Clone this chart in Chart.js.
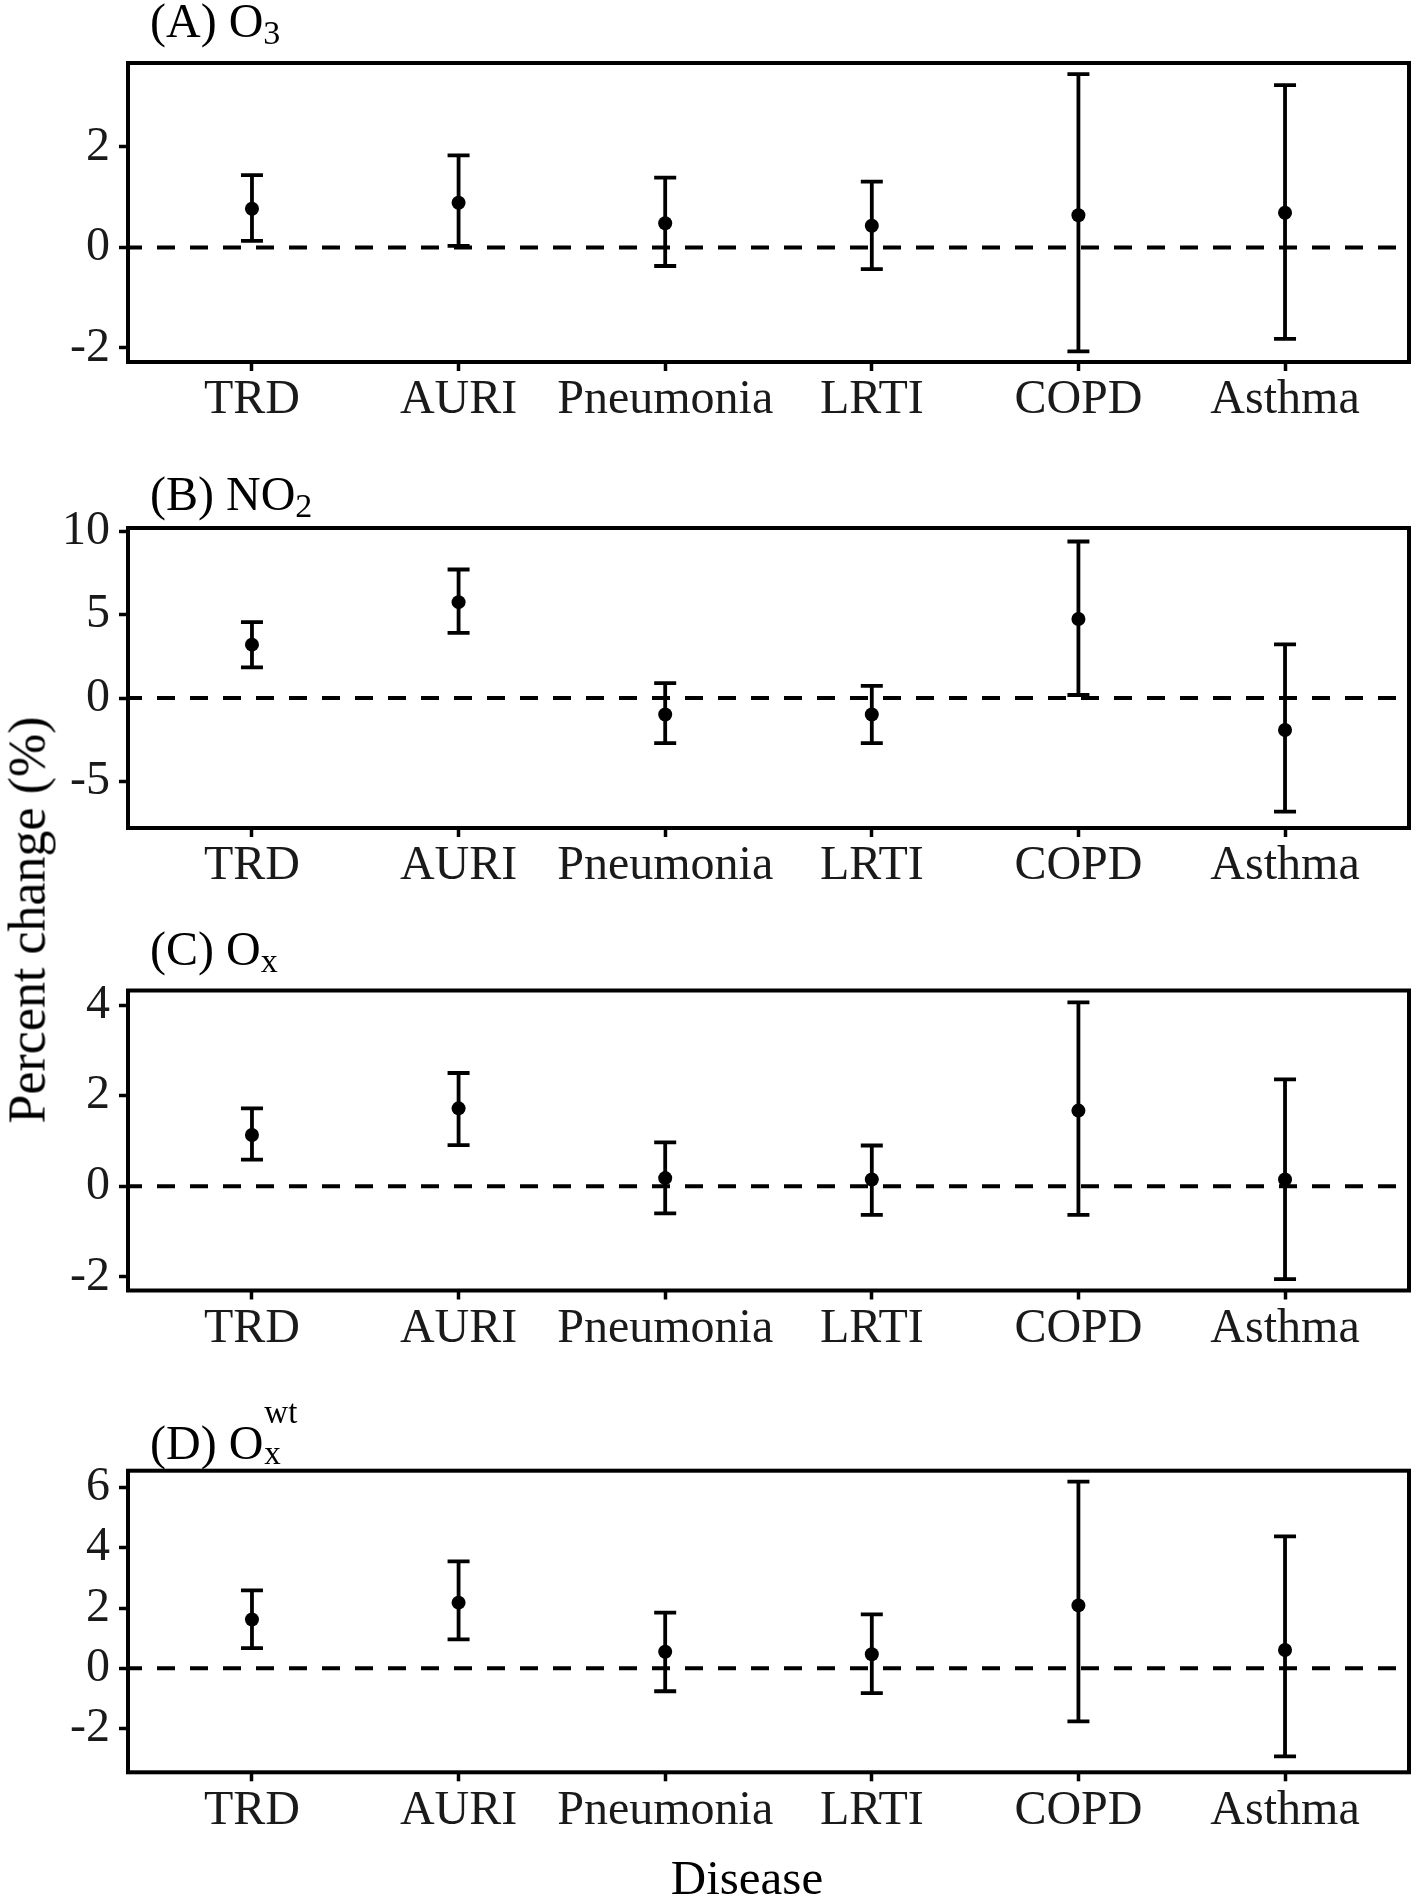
<!DOCTYPE html>
<html>
<head>
<meta charset="utf-8">
<script src="https://cdn.jsdelivr.net/npm/chart.js@4.4.0/dist/chart.umd.min.js"></script>
<style>
  html, body { margin: 0; padding: 0; background: #fff; }
  #wrap { position: relative; width: 1416px; height: 1898px; overflow: hidden;
          font-family: "Liberation Serif", "Times New Roman", serif; color: #000; }
  canvas { position: absolute; left: 0; }
  .ptitle { position: absolute; left: 150px; font-size: 48px; line-height: 1; white-space: nowrap; z-index: 2; }
  .ptitle sub { font-size: 34px; vertical-align: -7px; line-height: 1; }
  .stack { display: inline-block; position: relative; width: 38px; height: 48px; vertical-align: baseline; }
  .stack span { position: absolute; left: 1px; font-size: 33px; line-height: 1; }
  .stack .up { top: -15px; }
  .stack .dn { top: 26px; }
  #ytitle { position: absolute; left: 27px; top: 920px; font-size: 52px; white-space: nowrap;
            transform: translate(-50%, -50%) rotate(-90deg); z-index: 2; }
  #xtitle { position: absolute; left: 747px; top: 1877px; font-size: 49px; white-space: nowrap;
            transform: translate(-50%, -50%); z-index: 2; }
</style>
</head>
<body>
<div id="wrap">
  <div class="ptitle" style="top:-3px">(A) O<sub>3</sub></div>
  <div class="ptitle" style="top:470px">(B) NO<sub>2</sub></div>
  <div class="ptitle" style="top:925px">(C) O<sub>x</sub></div>
  <div class="ptitle" style="top:1411px">(D) O<span class="stack"><span class="up">wt</span><span class="dn">x</span></span></div>
  <div id="ytitle">Percent change (%)</div>
  <div id="xtitle">Disease</div>
  <canvas id="cA" width="1416" height="440" style="top:0px"></canvas>
  <canvas id="cB" width="1416" height="440" style="top:470px"></canvas>
  <canvas id="cC" width="1416" height="440" style="top:935px"></canvas>
  <canvas id="cD" width="1416" height="440" style="top:1410px"></canvas>
</div>
<script>
// categories on the x axis
const categories = ['TRD', 'AURI', 'Pneumonia', 'LRTI', 'COPD', 'Asthma'];
const xRange = [-0.6, 5.6];

// (A) O3
const o3Est  = [0.77, 0.89, 0.48, 0.43, 0.64, 0.69];
const o3Low  = [0.13, 0.03, -0.37, -0.43, -2.07, -1.82];
const o3High = [1.44, 1.83, 1.39, 1.31, 3.45, 3.23];
const o3Ticks = [-2, 0, 2];
const o3Range = [-2.28, 3.67];

// (B) NO2
const no2Est  = [3.20, 5.75, -0.99, -0.99, 4.74, -1.92];
const no2Low  = [1.84, 3.91, -2.71, -2.71, 0.18, -6.82];
const no2High = [4.55, 7.71, 0.89, 0.73, 9.39, 3.22];
const no2Ticks = [-5, 0, 5, 10];
const no2Range = [-7.8, 10.2];

// (C) Ox
const oxEst  = [1.13, 1.72, 0.18, 0.15, 1.67, 0.15];
const oxLow  = [0.59, 0.91, -0.60, -0.63, -0.63, -2.05];
const oxHigh = [1.72, 2.50, 0.97, 0.90, 4.06, 2.36];
const oxTicks = [-2, 0, 2, 4];
const oxRange = [-2.30, 4.32];

// (D) Ox wt
const oxwtEst  = [1.62, 2.18, 0.55, 0.47, 2.09, 0.61];
const oxwtLow  = [0.67, 0.96, -0.76, -0.82, -1.76, -2.92];
const oxwtHigh = [2.59, 3.55, 1.85, 1.79, 6.20, 4.38];
const oxwtTicks = [-2, 0, 2, 4, 6];
const oxwtRange = [-3.45, 6.56];

const labelFont = { family: '"Liberation Serif", "Times New Roman", serif', size: 48 };

// error bars with caps, drawn from the chart scales
function errorBars(low, high) {
    return {
        id: 'errorBars',
        beforeDatasetsDraw(chart) {
            const ctx = chart.ctx;
            const x = chart.scales.x, y = chart.scales.y;
            ctx.save();
            ctx.strokeStyle = '#000';
            ctx.lineWidth = 3.8;
            low.forEach((lo, i) => {
                const px = x.getPixelForValue(i);
                const y1 = y.getPixelForValue(lo);
                const y2 = y.getPixelForValue(high[i]);
                ctx.beginPath();
                ctx.moveTo(px, y1); ctx.lineTo(px, y2);
                ctx.moveTo(px - 11, y1); ctx.lineTo(px + 11, y1);
                ctx.moveTo(px - 11, y2); ctx.lineTo(px + 11, y2);
                ctx.stroke();
            });
            ctx.restore();
        }
    };
}

// frame round the plot area
const frame = {
    id: 'frame',
    afterDraw(chart) {
        const a = chart.chartArea, ctx = chart.ctx;
        ctx.save();
        ctx.strokeStyle = '#000';
        ctx.lineWidth = 4;
        ctx.strokeRect(a.left, a.top, a.right - a.left, a.bottom - a.top);
        ctx.restore();
    }
};

function makePanel(id, est, low, high, yTicks, yRange, padTop, plotH) {
    const canvasH = 440;
    new Chart(document.getElementById(id), {
        type: 'scatter',
        data: {
            datasets: [
                {
                    type: 'line',
                    data: [{ x: xRange[0], y: 0 }, { x: xRange[1], y: 0 }],
                    borderColor: '#000',
                    borderWidth: 4,
                    borderDash: [18, 15],
                    borderDashOffset: 4,
                    pointRadius: 0
                },
                {
                    data: est.map((v, i) => ({ x: i, y: v })),
                    backgroundColor: '#000',
                    borderColor: '#000',
                    pointRadius: 7,
                    borderWidth: 0
                }
            ]
        },
        options: {
            responsive: false,
            animation: false,
            devicePixelRatio: 1,
            layout: { padding: { top: padTop, right: 5, left: 0, bottom: 0 } },
            plugins: { legend: { display: false }, tooltip: { enabled: false } },
            scales: {
                x: {
                    type: 'linear',
                    min: xRange[0],
                    max: xRange[1],
                    afterBuildTicks: s => { s.ticks = categories.map((c, i) => ({ value: i })); },
                    afterFit: s => { s.height = canvasH - padTop - plotH; },
                    ticks: {
                        callback: v => categories[v],
                        font: labelFont,
                        color: '#1a1a1a',
                        padding: 1,
                        maxRotation: 0,
                        autoSkip: false
                    },
                    grid: { drawOnChartArea: false, tickLength: 9, tickWidth: 3.5, tickColor: '#000' },
                    border: { display: false }
                },
                y: {
                    min: yRange[0],
                    max: yRange[1],
                    afterBuildTicks: s => { s.ticks = yTicks.map(v => ({ value: v })); },
                    afterFit: s => { s.width = 128; },
                    ticks: { font: labelFont, color: '#1a1a1a', padding: 9 },
                    grid: { drawOnChartArea: false, tickLength: 9, tickWidth: 3.5, tickColor: '#000' },
                    border: { display: false }
                }
            }
        },
        plugins: [errorBars(low, high), frame]
    });
}

makePanel('cA', o3Est, o3Low, o3High, o3Ticks, o3Range, 63, 299);
makePanel('cB', no2Est, no2Low, no2High, no2Ticks, no2Range, 58, 300);
makePanel('cC', oxEst, oxLow, oxHigh, oxTicks, oxRange, 55.5, 300);
makePanel('cD', oxwtEst, oxwtLow, oxwtHigh, oxwtTicks, oxwtRange, 60.7, 301.6);
</script>
</body>
</html>
